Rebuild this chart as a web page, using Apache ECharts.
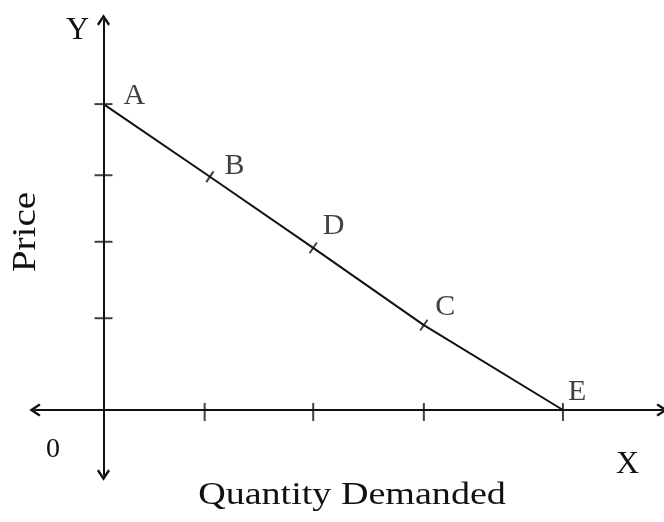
<!DOCTYPE html>
<html>
<head>
<meta charset="utf-8">
<script src="https://cdn.jsdelivr.net/npm/echarts@6/dist/echarts.min.js"></script>
<style>
  html, body { margin: 0; padding: 0; background: #fff; }
  #chart { width: 664px; height: 522px; }
</style>
</head>
<body>
<div id="chart"></div>
<script>
// demand curve points
const pointNames = ['A', 'B', 'D', 'C', 'E'];
const quantity = [0, 1.01, 1.99, 3.04, 4.36];
const price = [4, 3.05, 2.12, 1.11, 0];
// little tick marks on the two axes
const xTicks = [0.96, 1.99, 3.04, 4.36];
const yTicks = [1.2, 2.2, 3.07, 4];

const ink = '#111';
const serif = 'Liberation Serif';
const arrow = 'path://M10,0 L20,15 L17.2,17.5 L10,6.5 L2.8,17.5 L0,15 Z';
// where each letter sits next to its point (px)
const labelShift = [[20, -8], [10, -11], [5, -22], [7, -18], [5, -18]];

const chart = echarts.init(document.getElementById('chart'));

let curve = quantity.map((q, i) => [q, price[i]]);

let option = {
  backgroundColor: '#fff',
  animation: false,
  grid: { left: 35, right: 2, top: 20, bottom: 47 },
  xAxis: {
    type: 'value', min: -0.65, max: 5.3,
    splitLine: { show: false }, axisLabel: { show: false }, axisTick: { show: false },
    axisLine: { onZero: true, symbol: [arrow, arrow], symbolSize: [13, 14],
      lineStyle: { color: ink, width: 2 } }
  },
  yAxis: {
    type: 'value', min: -0.85, max: 5.1,
    splitLine: { show: false }, axisLabel: { show: false }, axisTick: { show: false },
    axisLine: { onZero: true, symbol: [arrow, arrow], symbolSize: [13, 14],
      lineStyle: { color: ink, width: 2 } }
  },
  graphic: [
    { type: 'text', left: 66, top: 15, style: { text: 'Y', fontSize: 32, fontFamily: serif, fill: ink } },
    { type: 'text', left: 616, top: 449, style: { text: 'X', fontSize: 32, fontFamily: serif, fill: ink } },
    { type: 'text', left: 46, top: 436, style: { text: '0', fontSize: 28, fontFamily: serif, fill: ink } },
    { type: 'text', x: 26, y: 232, rotation: Math.PI / 2, scaleX: 1.15,
      style: { text: 'Price', fontSize: 34, fontFamily: serif, fill: ink, align: 'center', verticalAlign: 'middle' } },
    { type: 'text', x: 352, y: 496, scaleX: 1.19,
      style: { text: 'Quantity Demanded', fontSize: 32, fontFamily: serif, fill: ink, align: 'center', verticalAlign: 'middle' } }
  ],
  series: [
    {
      type: 'line', data: curve, symbol: 'none',
      lineStyle: { color: ink, width: 2 }
    },
    {
      // cross marks on the curve + point letters
      type: 'scatter',
      data: curve.map((p, i) => ({
        value: p, name: pointNames[i],
        symbolSize: (i === 0 || i === curve.length - 1) ? 0 : [2, 13],
        label: { offset: labelShift[i] }
      })),
      symbol: 'rect', symbolRotate: -34,
      itemStyle: { color: ink },
      label: {
        show: true, formatter: '{b}', position: 'right', distance: 0,
        fontFamily: serif, fontSize: 30, color: ink
      }
    },
    {
      type: 'scatter', data: xTicks.map(v => [v, 0]),
      symbol: 'rect', symbolSize: [2, 18], symbolOffset: [0, 2],
      itemStyle: { color: ink }
    },
    {
      type: 'scatter', data: yTicks.map(v => [0, v]),
      symbol: 'rect', symbolSize: [18, 2],
      itemStyle: { color: ink }
    }
  ]
};

chart.setOption(option);
</script>
</body>
</html>
